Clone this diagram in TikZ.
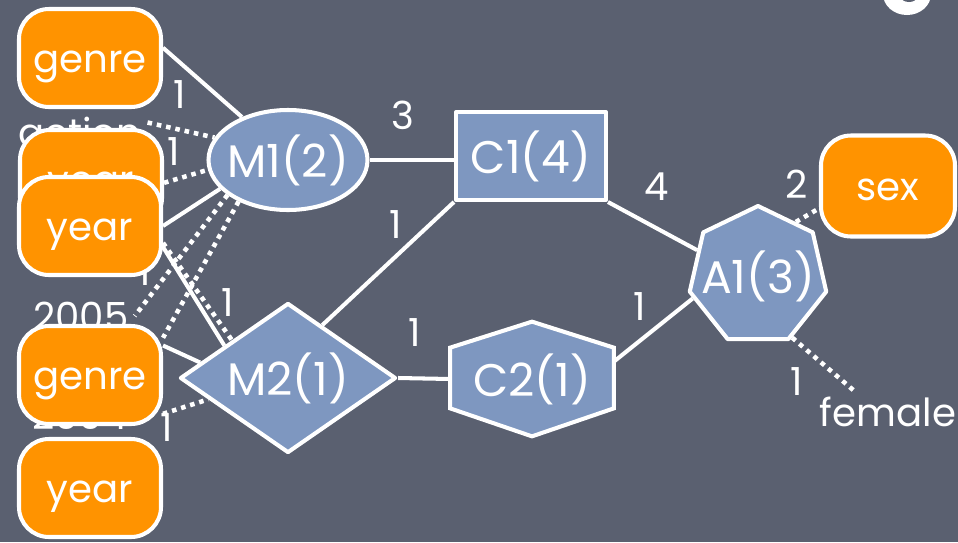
\documentclass[tikz,border=0pt]{standalone}
\usepackage{fontspec}
\setmainfont{Poppins}
\usetikzlibrary{shapes.geometric}

\definecolor{slate}{RGB}{90,96,112}
\definecolor{entblue}{RGB}{126,151,192}
\definecolor{attrorange}{RGB}{255,147,0}

\pgfdeclarelayer{back}
\pgfdeclarelayer{links}
\pgfsetlayers{back,links,main}

\begin{document}
\begin{tikzpicture}[line cap=round,line join=round,
    every node/.style={text=white,font=\fontsize{22}{26}\selectfont},
    attr/.style={draw=white,line width=2.3pt,fill=attrorange,rounded corners=0.6cm,
      minimum width=2.84cm,minimum height=1.96cm,text height=16.5pt,text depth=0pt},
    ent/.style={draw=white,line width=2.3pt,fill=entblue,font=\fontsize{26}{30}\selectfont},
    link/.style={draw=white,line width=2.3pt},
    dotlink/.style={draw=white,line width=2.6pt,line cap=butt,dash pattern=on 2.6pt off 2.8pt},
    num/.style={inner sep=0pt}]
  \useasboundingbox (0,0) rectangle (19.16,10.84);

  % board and the values left under the boxes
  \begin{pgfonlayer}{back}
    \fill[slate] (0,0) rectangle (19.16,10.84);
    \fill[white] (18.14,10.96) ellipse [x radius=0.48,y radius=0.42];
    \fill[slate] (18.18,10.90) ellipse [x radius=0.16,y radius=0.10];
    \node (action) at (1.60,8.20) {action};
    \node (y2005) at (1.62,4.52) {2005};
    \node (y2004) at (1.60,2.54) {2004};
    \node[num] (l3) at (2.90,5.40) {1};
  \end{pgfonlayer}

  % attribute boxes
  \node[attr] (genre1) at (1.80,9.68) {genre};
  \node[attr] (yearh) at (1.82,7.26) {year};
  \node[attr] (year1) at (1.80,6.32) {year};
  \node[attr] (genre2) at (1.80,3.34) {genre};
  \node[attr] (year2) at (1.80,1.08) {year};
  \node[attr,minimum width=2.68cm,minimum height=2.02cm] (sex) at (17.76,7.12) {sex};

  % entities
  \node[ent,ellipse,minimum width=3.18cm,minimum height=2.00cm,inner sep=0pt] (m1) at (5.76,7.64) {\makebox[0pt]{M1(2)}};
  \node[ent,minimum width=3.00cm,minimum height=1.76cm] (c1) at (10.62,7.72) {C1(4)};
  \node[ent,diamond,aspect=1.43,minimum width=4.32cm,minimum height=3.00cm,inner sep=0pt] (m2) at (5.76,3.28) {\makebox[0pt]{M2(1)}};
  \node[font=\fontsize{26}{30}\selectfont,minimum width=3.26cm,minimum height=2.28cm] (c2) at (10.64,3.26) {C2(1)};
  \node[ent,regular polygon,regular polygon sides=7,minimum size=2.80cm,inner sep=0pt] (a1) at (15.16,5.32) {\makebox[0pt]{A1(3)}};
  \node (female) at (17.76,2.60) {female};

  % links
  \begin{pgfonlayer}{links}
    \draw[link] (genre1.8) -- (m1.137);
    \draw[dotlink] (action.8) -- (m1.163);
    \draw[dotlink] (yearh.-3) -- (m1.187);
    \draw[link] (year1.east) -- (m1.203);
    \draw[dotlink] (m1.210) -- (y2005.east);
    \draw[dotlink] (m1.220) -- (genre2.27);
    \draw[link] (year1.-16) -- (m2.153);
    \draw[dotlink] (year1.-13) -- (m2.146);
    \draw[link] (genre2.22) -- (m2.170);
    \draw[dotlink] (genre2.-28) -- (m2.195);
    \draw[link] (m1.east) -- (m1.east -| c1.west);
    \draw[link] (m2.57) -- (c1.south west);
    \draw[link] (m2.east) -- (c2.west);
    \draw[link] (c1.south east) -- (a1.157);
    \draw[link] (c2.12) -- (a1.199);
    \draw[dotlink] (a1.55) -- (sex.198);
    \draw[dotlink] (a1.299) -- (female.148);
    % hexagon behind the C2 text
    \path[ent] (c2.north) -- ([yshift=-0.52cm]c2.north east) -- ([yshift=0.56cm]c2.south east)
      -- (c2.south) -- ([yshift=0.56cm]c2.south west) -- ([yshift=-0.52cm]c2.north west) -- cycle;
  \end{pgfonlayer}

  % counts
  \node[num] (l1) at (3.60,8.94) {1};
  \node[num] (l2) at (3.48,7.80) {1};
  \node[num] (l4) at (4.56,4.78) {1};
  \node[num] (l5) at (3.34,2.28) {1};
  \node[num] (l6) at (8.06,8.54) {3};
  \node[num] (l7) at (7.92,6.34) {1};
  \node[num] (l8) at (8.30,4.18) {1};
  \node[num] (l9) at (13.14,7.10) {4};
  \node[num] (l10) at (12.80,4.70) {1};
  \node[num] (l11) at (15.94,7.16) {2};
  \node[num] (l12) at (15.94,3.20) {1};
\end{tikzpicture}
\end{document}
